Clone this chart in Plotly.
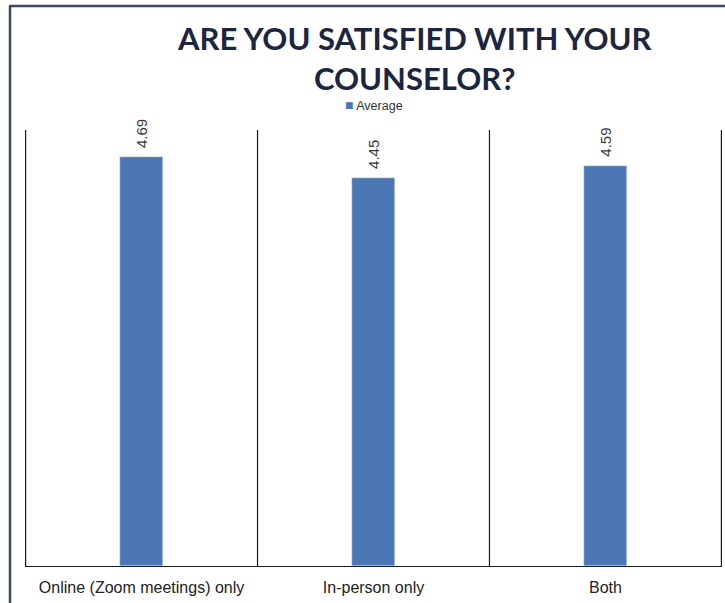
import plotly.graph_objects as go

categories = ["Online (Zoom meetings) only", "In-person only", "Both"]
averages = [4.69, 4.45, 4.59]
series_name = "Average"
title_text = "ARE YOU SATISFIED WITH YOUR<br>COUNSELOR?"

W, H = 725, 603
L, R, T, B = 25, 3, 130, 37
pw, ph = W - L - R, H - T - B
bar_color = "#4a77b3"

def px_x(p):
    return (p - L) / pw

def px_y(p):
    return 1 + (T - p) / ph

fig = go.Figure()
fig.add_trace(go.Bar(
    x=categories,
    y=averages,
    name=series_name,
    marker_color=bar_color,
    width=0.182,
    showlegend=False,
))

# value labels above each bar, rotated
annotations = []
for c, v in zip(categories, averages):
    annotations.append(dict(
        x=c, y=v, xref="x", yref="y", text=f"{v:.2f}", textangle=-90,
        showarrow=False, xanchor="center", yanchor="bottom", yshift=7,
        font=dict(family="Liberation Sans, Arial", size=15, color="#3a3a3a"),
    ))

# title
annotations.append(dict(
    text=title_text, xref="paper", yref="paper",
    x=px_x(414), y=px_y(17), xanchor="center", yanchor="top",
    showarrow=False, align="center",
    font=dict(family="Lato", size=31, color="#1c2541", weight=700),
))

# series key
annotations.append(dict(
    text=f"<span style='color:{bar_color};font-size:14px'>■</span> {series_name}",
    xref="paper", yref="paper", x=px_x(343), y=px_y(105),
    xanchor="left", yanchor="middle", showarrow=False,
    font=dict(family="Liberation Sans, Arial", size=12.5, color="#333"),
))

line_color = "#1a1a1a"
shapes = []
# category dividers
for xb in [-0.5, 0.5, 1.5, 2.5]:
    shapes.append(dict(type="line", xref="x", yref="paper", x0=xb, x1=xb, y0=0, y1=1,
                       line=dict(color=line_color, width=1.2)))
# outer frame (left and top edges)
frame_color = "#3d4b66"
shapes.append(dict(type="line", xref="paper", yref="paper",
                   x0=px_x(10), x1=px_x(10), y0=px_y(6), y1=px_y(H + 5),
                   line=dict(color=frame_color, width=2.5)))
shapes.append(dict(type="line", xref="paper", yref="paper",
                   x0=px_x(9), x1=px_x(W + 5), y0=px_y(6), y1=px_y(6),
                   line=dict(color=frame_color, width=2.5)))

fig.update_layout(
    width=W, height=H,
    margin=dict(l=L, r=R, t=T, b=B, pad=0),
    paper_bgcolor="white", plot_bgcolor="white",
    shapes=shapes,
    annotations=annotations,
    showlegend=False,
    xaxis=dict(showline=True, linecolor=line_color, linewidth=1.2, showgrid=False,
               ticks="", ticklabelstandoff=7,
               tickfont=dict(family="Liberation Sans, Arial", size=16, color="#222"),
               fixedrange=True),
    yaxis=dict(range=[0, 5], visible=False, showgrid=False, zeroline=False, fixedrange=True),
    bargap=0,
)

fig.write_html("out.html")
